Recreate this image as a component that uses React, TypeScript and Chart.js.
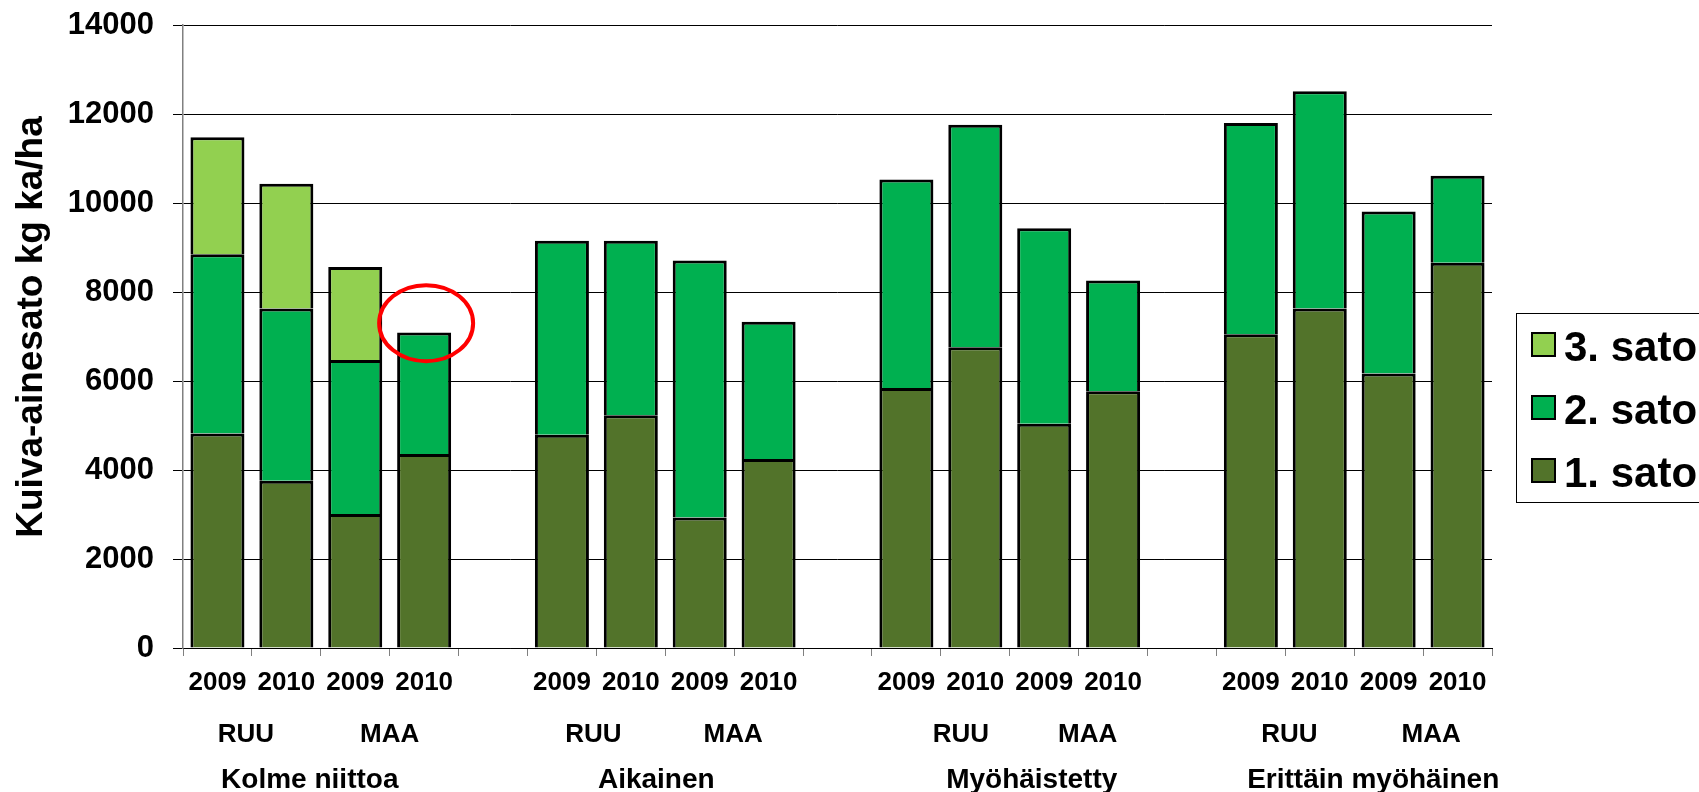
import React, { useEffect, useRef } from 'react';
import { Chart, registerables } from 'chart.js';

Chart.register(...registerables);

const FAMILY = '"Liberation Sans", Arial, Helvetica, sans-serif';

// Harvest timing treatments, each with two sites and two years
const groupNames = ['Kolme niittoa', 'Aikainen', 'Myöhäistetty', 'Erittäin myöhäinen'];
const siteNames = ['RUU', 'MAA'];
const yearLabels = ['2009', '2010', '2009', '2010'];

// Dry matter yield (kg ka/ha) per cut, in order RUU 2009, RUU 2010, MAA 2009, MAA 2010 for each treatment
const sato1 = [4820, 3760, 3010, 4360, 4790, 5230, 2930, 4250, 5840, 6760, 5040, 5770, 7050, 7630, 6170, 8660];
const sato2 = [4030, 3870, 3460, 2730, 4360, 3920, 5780, 3080, 4690, 5000, 4390, 2490, 4750, 4880, 3640, 1950];
const sato3 = [2630, 2800, 2090, null, null, null, null, null, null, null, null, null, null, null, null, null];

const seriesNames = ['1. sato', '2. sato', '3. sato'];
const seriesColors = ['#52732A', '#00B050', '#92D050'];

const yMax = 14000;
const yStep = 2000;

// Bar that is circled, and the level the circle sits at
const highlightBar = 3;
const highlightValue = 7300;

const yTitle = 'Kuiva-ainesato kg ka/ha';

// Small horizontal nudges (px) for the multi-level category captions
const groupNudge = [-11, -9, 22, 19];
const siteNudge = [
  [-6, 0],
  [-3, -1],
  [20, 9],
  [4, 8],
];

// Category slots: four bars per treatment with an empty slot between treatments
const slotIndex: number[] = [];
const catLabels: string[] = [];
groupNames.forEach((_, g) => {
  yearLabels.forEach((yr) => {
    slotIndex.push(catLabels.length);
    catLabels.push(yr);
  });
  if (g < groupNames.length - 1) catLabels.push('');
});

const spread = (vals: (number | null)[]) => {
  const out: (number | null)[] = catLabels.map(() => null);
  vals.forEach((v, i) => {
    out[slotIndex[i]] = v;
  });
  return out;
};

const seriesData = [sato1, sato2, sato3];

const decorations = {
  id: 'decorations',
  afterDraw(chart: any) {
    const { ctx } = chart;
    const x = chart.scales.x;
    const y = chart.scales.y;
    ctx.save();
    ctx.fillStyle = '#000';
    ctx.textAlign = 'center';
    ctx.textBaseline = 'alphabetic';

    // Year row
    ctx.font = `bold 26px ${FAMILY}`;
    catLabels.forEach((c, i) => {
      if (c) ctx.fillText(c, x.getPixelForValue(i), 690);
    });

    // Site row and treatment row
    groupNames.forEach((name, g) => {
      const base = g * yearLabels.length;
      siteNames.forEach((site, s) => {
        const a = x.getPixelForValue(slotIndex[base + s * 2]);
        const b = x.getPixelForValue(slotIndex[base + s * 2 + 1]);
        ctx.font = `bold 26px ${FAMILY}`;
        ctx.fillText(site, (a + b) / 2 + siteNudge[g][s], 742);
      });
      const first = x.getPixelForValue(slotIndex[base]);
      const last = x.getPixelForValue(slotIndex[base + yearLabels.length - 1]);
      ctx.font = `bold 28px ${FAMILY}`;
      ctx.fillText(name, (first + last) / 2 + groupNudge[g], 788);
    });

    // Y axis title
    ctx.save();
    ctx.translate(42, 327);
    ctx.rotate(-Math.PI / 2);
    ctx.font = `bold 37px ${FAMILY}`;
    ctx.fillText(yTitle, 0, 0);
    ctx.restore();

    // Circle around the highlighted bar top
    ctx.beginPath();
    ctx.ellipse(x.getPixelForValue(highlightBar) + 2, y.getPixelForValue(highlightValue), 47, 38, 0, 0, Math.PI * 2);
    ctx.strokeStyle = '#FF0000';
    ctx.lineWidth = 4;
    ctx.stroke();

    // Legend box
    ctx.lineWidth = 1;
    ctx.strokeStyle = '#000';
    ctx.strokeRect(1516.5, 313.5, 400, 189);
    ctx.textAlign = 'left';
    ctx.font = `bold 42px ${FAMILY}`;
    const order = [2, 1, 0];
    order.forEach((si, row) => {
      const baseY = 361 + row * 63;
      ctx.fillStyle = seriesColors[si];
      ctx.fillRect(1532, baseY - 28, 23, 23);
      ctx.lineWidth = 2;
      ctx.strokeStyle = '#000';
      ctx.strokeRect(1532, baseY - 28, 23, 23);
      ctx.fillStyle = '#000';
      ctx.fillText(seriesNames[si], 1564, baseY);
    });
    ctx.restore();
  },
};

export default function App() {
  const canvasRef = useRef<HTMLCanvasElement | null>(null);

  useEffect(() => {
    if (!canvasRef.current) return;
    const chart = new Chart(canvasRef.current, {
      type: 'bar',
      data: {
        labels: catLabels,
        datasets: seriesData.map((vals, i) => ({
          label: seriesNames[i],
          data: spread(vals),
          backgroundColor: seriesColors[i],
          borderColor: '#000',
          borderWidth: { top: 3, left: 3, right: 3, bottom: 0 },
          borderSkipped: false,
          barPercentage: 0.784,
          categoryPercentage: 1,
        })),
      },
      options: {
        responsive: false,
        animation: false,
        events: [],
        layout: { padding: { top: 25, right: 207, bottom: 0, left: 0 } },
        plugins: {
          legend: { display: false },
          tooltip: { enabled: false },
        },
        scales: {
          x: {
            stacked: true,
            grid: {
              offset: true,
              drawOnChartArea: false,
              drawTicks: true,
              tickLength: 8,
              color: '#808080',
              lineWidth: 1,
            },
            border: { color: '#000', width: 1 },
            ticks: { display: false },
            afterFit: (s: any) => {
              s.height = 144;
              s.paddingLeft = 0;
              s.paddingRight = 0;
            },
          },
          y: {
            stacked: true,
            min: 0,
            max: yMax,
            ticks: {
              stepSize: yStep,
              color: '#000',
              padding: 19,
              font: { family: FAMILY, size: 31, weight: 'bold' },
              callback: (v: any) => String(v),
            },
            grid: { color: '#000', lineWidth: 1, tickLength: 10 },
            border: { color: '#808080', width: 1.5 },
            afterFit: (s: any) => {
              s.width = 183;
              s.paddingTop = 0;
              s.paddingBottom = 0;
            },
          },
        },
      },
      plugins: [decorations],
    });
    return () => chart.destroy();
  }, []);

  return (
    <div style={{ position: 'absolute', left: 0, top: 0, width: 1699, height: 792, background: '#fff' }}>
      <canvas ref={canvasRef} width={1699} height={792} />
    </div>
  );
}
